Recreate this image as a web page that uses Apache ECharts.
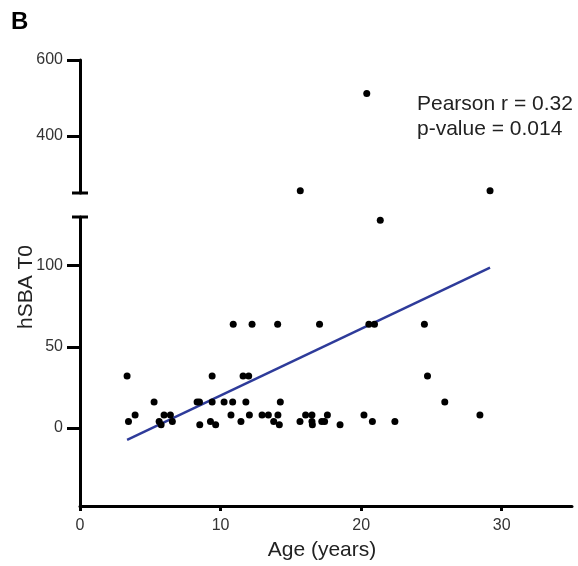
<!DOCTYPE html>
<html>
<head>
<meta charset="utf-8">
<script src="https://cdn.jsdelivr.net/npm/echarts@6/dist/echarts.min.js"></script>
<style>
html,body{margin:0;padding:0;background:#fff;}
#chart{width:578px;height:566px;}
</style>
</head>
<body>
<div id="chart"></div>
<script>
// Lower segment points (age in years, hSBA T0)
var lowerAges = [3.35,3.45,3.92,5.27,5.63,5.77,5.98,6.43,6.57,8.33,8.5,8.52,9.28,9.4,9.4,9.65,10.25,10.74,10.86,10.9,11.45,11.6,11.8,12.0,12.05,12.24,12.95,13.4,13.78,14.06,14.08,14.18,14.25,15.65,16.05,16.5,16.5,16.53,17.04,17.2,17.4,17.6,18.5,20.2,20.55,20.8,20.95,21.36,22.4,24.5,24.72,25.95,28.45];
var lowerValues = [32,4,8,16,4,2,8,8,4,16,16,2,4,32,16,2,16,8,16,64,4,32,16,32,8,64,8,8,4,64,8,2,16,4,8,8,4,2,64,4,4,8,2,8,64,4,64,128,4,64,32,16,8];
// Upper segment points
var upperAges = [15.67,20.4,29.17];
var upperValues = [256,512,256];
// Regression line end points
var fitAges = [3.35,29.17];
var fitValues = [-7.2,98.8];
// Axis ticks
var upperTicks = [400,600];
var lowerTicks = [0,50,100];
var xTicks = [0,10,20,30];
var upperRange = [250,600];
var lowerRange = [-48,130];
var xRange = [0,35];

function zip(a,b){ return a.map(function(v,i){ return [v,b[i]]; }); }

var chart = echarts.init(document.getElementById('chart'), null, {renderer:'canvas'});
var FONT = 'Liberation Sans, Arial, sans-serif';
var axisLineStyle = {color:'#000', width:3};

var option = {
  animation:false,
  backgroundColor:'#fff',
  grid:[
    {left:80, top:60, width:492, height:133, outerBoundsMode:'none'},
    {left:80, top:217, width:492, height:289, outerBoundsMode:'none'}
  ],
  xAxis:[
    {gridIndex:0, type:'value', min:xRange[0], max:xRange[1], show:false},
    {gridIndex:1, type:'value', min:xRange[0], max:xRange[1], interval:10,
     axisLine:{show:true, onZero:false, lineStyle:axisLineStyle},
     axisTick:{show:true, length:5, customValues:xTicks, lineStyle:{color:'#000', width:3}},
     axisLabel:{color:'#333', fontSize:16, fontFamily:FONT, margin:12, customValues:xTicks},
     splitLine:{show:false},
     name:'Age (years)', nameLocation:'middle', nameGap:34,
     nameTextStyle:{color:'#222', fontSize:21, fontFamily:FONT, padding:[0,8,0,0]}
    }
  ],
  yAxis:[
    {gridIndex:0, type:'value', min:upperRange[0], max:upperRange[1],
     axisLine:{show:true, onZero:false, lineStyle:axisLineStyle},
     axisTick:{show:true, length:13, customValues:upperTicks, lineStyle:{color:'#000', width:3}},
     axisLabel:{color:'#333', fontSize:16, fontFamily:FONT, margin:17, customValues:upperTicks},
     splitLine:{show:false}
    },
    {gridIndex:1, type:'value', min:lowerRange[0], max:lowerRange[1],
     axisLine:{show:true, onZero:false, lineStyle:axisLineStyle},
     axisTick:{show:true, length:13, customValues:lowerTicks, lineStyle:{color:'#000', width:3}},
     axisLabel:{color:'#333', fontSize:16, fontFamily:FONT, margin:17, customValues:lowerTicks},
     splitLine:{show:false}
    }
  ],
  series:[
    {type:'scatter', xAxisIndex:0, yAxisIndex:0, data:zip(upperAges,upperValues),
     symbol:'circle', symbolSize:7, itemStyle:{color:'#000', opacity:1}, clip:false},
    {type:'scatter', xAxisIndex:1, yAxisIndex:1, data:zip(lowerAges,lowerValues),
     symbol:'circle', symbolSize:7, itemStyle:{color:'#000', opacity:1}, clip:false},
    {type:'line', xAxisIndex:1, yAxisIndex:1, data:zip(fitAges,fitValues),
     showSymbol:false, symbol:'none', lineStyle:{color:'#2e3b9a', width:2.5}, z:1}
  ]
};
chart.setOption(option);

// Break caps at segment ends and text annotations
var capU = chart.convertToPixel({gridIndex:0}, [xRange[0], upperRange[0]]);
var capL = chart.convertToPixel({gridIndex:1}, [xRange[0], lowerRange[1]]);
chart.setOption({
  graphic:[
    {type:'line', shape:{x1:capU[0]-8, y1:capU[1], x2:capU[0]+8, y2:capU[1]}, style:{stroke:'#000', lineWidth:3}},
    {type:'line', shape:{x1:capL[0]-8, y1:capL[1], x2:capL[0]+8, y2:capL[1]}, style:{stroke:'#000', lineWidth:3}},
    {type:'text', x:11, y:10, style:{text:'B', font:'bold 24px '+FONT, fill:'#000', textVerticalAlign:'top'}},
    {type:'text', x:417, y:92, style:{text:'Pearson r = 0.32\np-value = 0.014', font:'21px '+FONT, fill:'#222', lineHeight:25, textVerticalAlign:'top'}},
    {type:'text', x:26, y:287, rotation:Math.PI/2, style:{text:'hSBA T0', font:'21px '+FONT, fill:'#222', textAlign:'center', textVerticalAlign:'middle'}}
  ]
});
</script>
</body>
</html>
